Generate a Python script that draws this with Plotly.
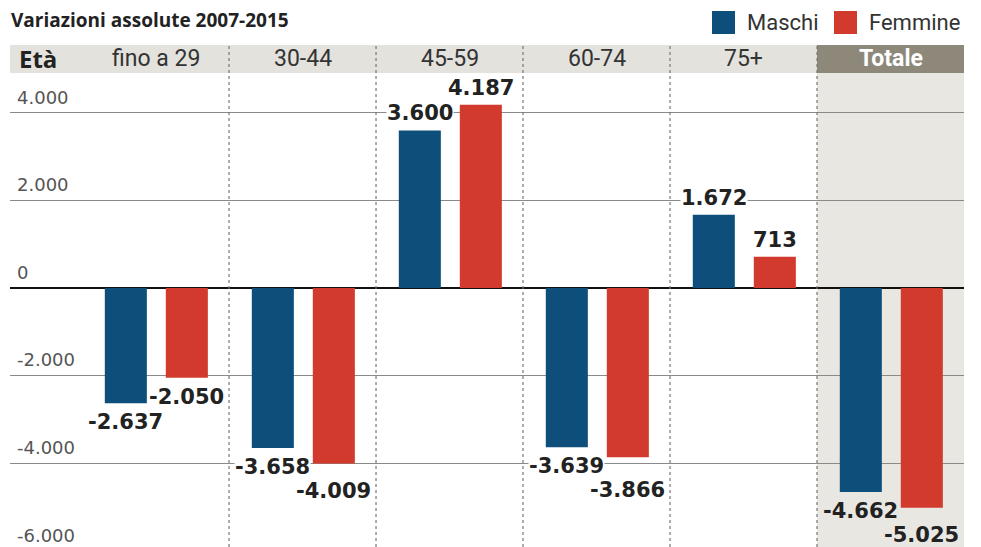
import plotly.graph_objects as go

# ---- data ----
categories = ["fino a 29", "30-44", "45-59", "60-74", "75+", "Totale"]
maschi = [-2637, -3658, 3600, -3639, 1672, -4662]
femmine = [-2050, -4009, 4187, -3866, 713, -5025]
series_names = ["Maschi", "Femmine"]
tick_values = [4000, 2000, 0, -2000, -4000, -6000]
tick_labels = ["4.000", "2.000", "0", "-2.000", "-4.000", "-6.000"]
title_text = "Variazioni assolute 2007-2015"
axis_title = "Età"

# ---- style ----
BLUE = "#0d4f7a"
RED = "#d13a2d"
HEADER_BG = "#e4e2dd"
TOT_HEAD = "#8d887a"
TOT_BG = "#e9e7e2"
W, H = 981, 547
PL, PT, PW, PH = 10, 73, 954, 474
HEAD_H = 28
BAR_W = 0.286
OFFS = [-0.345, 0.07]
YMIN, YMAX = -5920, 4914
PX_PER_UNIT = PH / (YMAX - YMIN)
LABEL_GAP = 24  # min vertical separation (px) of stacked negative labels

def px(x):
    return (x - PL) / PW

def py(y):
    return (PT + PH - y) / PH

def yval_to_paper(v):
    return (v - YMIN) / (YMAX - YMIN)

xs = list(range(len(categories)))
fig = go.Figure()
for name, vals, col, off in zip(series_names, [maschi, femmine], [BLUE, RED], OFFS):
    fig.add_trace(go.Bar(
        x=xs, y=vals, name=name, marker=dict(color=col, line=dict(width=0)),
        width=BAR_W, offset=off, showlegend=False, hoverinfo="skip"))

annotations = []
VAL_FONT = dict(family="DejaVu Sans", size=21, color="#222222", weight="bold")
# value labels
pairs = list(zip(maschi, femmine))
for si, (vals, off) in enumerate(zip([maschi, femmine], OFFS)):
    for i, v in enumerate(vals):
        txt = f"{v:,}".replace(",", ".")
        bg = TOT_BG if i == len(categories) - 1 else "white"
        if v >= 0:
            annotations.append(dict(x=i + off + BAR_W / 2, y=v, xref="x", yref="y",
                                    text=txt, showarrow=False, yanchor="bottom", yshift=4,
                                    bgcolor=bg, borderpad=0, font=VAL_FONT))
        else:
            a, b = pairs[i]
            other = b if si == 0 else a
            extra = 0
            if other < 0 and v < other:
                diff_px = (other - v) * PX_PER_UNIT
                extra = max(0, LABEL_GAP - diff_px)
            annotations.append(dict(x=i + off + BAR_W / 2, y=v, xref="x", yref="y",
                                    text=txt, showarrow=False, yanchor="top", yshift=-6 - extra,
                                    bgcolor=bg, borderpad=0, font=VAL_FONT))

# tick labels
for tv, tl in zip(tick_values, tick_labels):
    annotations.append(dict(x=px(15), y=yval_to_paper(tv), xref="paper", yref="paper", text=tl,
                            showarrow=False, xanchor="left", yanchor="bottom", yshift=3,
                            font=dict(family="DejaVu Sans", size=18, color="#555555")))

# header labels
hy = 1 + (HEAD_H / 2) / PH
for i, c in enumerate(categories):
    last = i == len(categories) - 1
    annotations.append(dict(x=i, y=hy, xref="x", yref="paper", text=c, showarrow=False,
                            xanchor="center", yanchor="middle",
                            font=dict(family="Liberation Sans Narrow, Roboto", size=23,
                                      color="white" if last else "#333333",
                                      weight="bold" if last else "normal")))
annotations.append(dict(x=px(17), y=hy, xref="paper", yref="paper", text=axis_title, showarrow=False,
                        xanchor="left", yanchor="middle",
                        font=dict(family="Open Sans", size=24, color="#222222", weight="bold")))

# title
annotations.append(dict(x=px(9), y=py(20), xref="paper", yref="paper", text=title_text, showarrow=False,
                        xanchor="left", yanchor="middle",
                        font=dict(family="Open Sans", size=19, color="#222222", weight="bold")))

# legend (custom)
shapes = []
leg = [(712, series_names[0], BLUE, 745), (834, series_names[1], RED, 867)]
for x0, nm, col, tx in leg:
    shapes.append(dict(type="rect", xref="paper", yref="paper", x0=px(x0), x1=px(x0 + 23),
                       y0=py(34), y1=py(11), fillcolor=col, line=dict(width=0), layer="above"))
    annotations.append(dict(x=px(tx), y=py(23), xref="paper", yref="paper", text=nm, showarrow=False,
                            xanchor="left", yanchor="middle",
                            font=dict(family="Liberation Sans Narrow, Roboto", size=22, color="#333333")))

# backgrounds
n = len(categories)
shapes.append(dict(type="rect", xref="x", yref="paper", x0=n - 1.5, x1=n - 0.5, y0=0, y1=1,
                   fillcolor=TOT_BG, line=dict(width=0), layer="below"))
shapes.append(dict(type="rect", xref="paper", yref="paper", x0=0, x1=1, y0=1, y1=1 + HEAD_H / PH,
                   fillcolor=HEADER_BG, line=dict(width=0), layer="above"))
shapes.append(dict(type="rect", xref="x", yref="paper", x0=n - 1.5, x1=n - 0.5, y0=1, y1=1 + HEAD_H / PH,
                   fillcolor=TOT_HEAD, line=dict(width=0), layer="above"))
# dotted separators
for k in range(n - 1):
    shapes.append(dict(type="line", xref="x", yref="paper", x0=k + 0.5, x1=k + 0.5, y0=0,
                       y1=1 + HEAD_H / PH, line=dict(color="#777777", width=1.2, dash="dot"), layer="above"))

fig.update_layout(
    width=W, height=H,
    margin=dict(l=PL, r=W - PL - PW, t=PT, b=H - PT - PH, pad=0),
    paper_bgcolor="white", plot_bgcolor="rgba(0,0,0,0)",
    barmode="overlay",
    xaxis=dict(range=[-0.99, n - 0.5], showgrid=False, zeroline=False, showticklabels=False,
               showline=False, fixedrange=True),
    yaxis=dict(range=[YMIN, YMAX], tickvals=tick_values, showticklabels=False, showgrid=True,
               gridcolor="#8a8a8a", gridwidth=1.2, zeroline=True, zerolinecolor="#111111",
               zerolinewidth=2, showline=False, fixedrange=True),
    shapes=shapes, annotations=annotations,
)

fig.write_html("out.html", config={"displayModeBar": False})
